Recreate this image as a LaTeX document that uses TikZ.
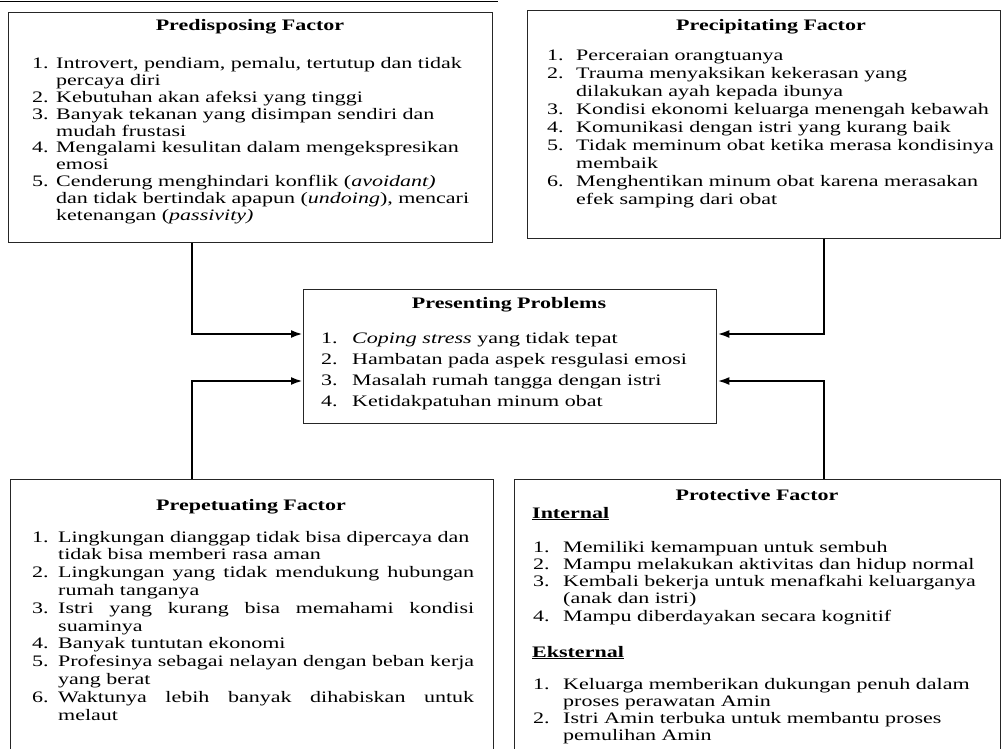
\documentclass[tikz,border=0pt]{standalone}
\usepackage{fontspec}
\setmainfont{Liberation Serif}[FakeStretch=1.375]
\usetikzlibrary{arrows.meta}

\tikzset{
  factor/.style={draw=black!85, line width=1.3pt, minimum width=#1, anchor=north west, inner sep=0pt},
  head/.style={font=\fontsize{16}{17.5}\selectfont\bfseries, inner sep=0pt, anchor=base},
  items/.style={font=\fontsize{16}{#1}\selectfont, inner sep=0pt, anchor=base west},
  conn/.style={line width=2.6pt, -{Latex[length=12pt, width=8pt]}}
}

\begin{document}
\begin{tikzpicture}[x=1pt, y=-1pt]
\useasboundingbox (0,0) rectangle (1001,749);
\draw[line width=1.5pt] (0,1.5) -- (498,1.5);

\node[factor=484pt, minimum height=230pt] (pred) at (8,12) {};
\node[factor=473pt, minimum height=228pt] (prec) at (527,10) {};
\node[factor=413pt, minimum height=134pt] (pres) at (303,289) {};
\node[factor=483pt, minimum height=290pt] (prep) at (10,479) {};
\node[factor=486pt, minimum height=290pt] (prot) at (514,479) {};

\node[head] (predT) at (250,31) {Predisposing Factor};
\node[items=16.8pt] (predL) at (32,69) {\begin{tabular}[t]{@{}p{24pt}@{}l@{}}
1. & Introvert, pendiam, pemalu, tertutup dan tidak\\
   & percaya diri\\
2. & Kebutuhan akan afeksi yang tinggi\\
3. & Banyak tekanan yang disimpan sendiri dan\\
   & mudah frustasi\\
4. & Mengalami kesulitan dalam mengekspresikan\\
   & emosi\\
5. & Cenderung menghindari konflik (\textit{avoidant)}\\
   & dan tidak bertindak apapun (\textit{undoing}), mencari\\
   & ketenangan (\textit{passivity)}
\end{tabular}};

\node[head] (precT) at (771,31) {Precipitating Factor};
\node[items=17.9pt] (precL) at (547,61) {\begin{tabular}[t]{@{}p{29pt}@{}l@{}}
1. & Perceraian orangtuanya\\
2. & Trauma menyaksikan kekerasan yang\\
   & dilakukan ayah kepada ibunya\\
3. & Kondisi ekonomi keluarga menengah kebawah\\
4. & Komunikasi dengan istri yang kurang baik\\
5. & Tidak meminum obat ketika merasa kondisinya\\
   & membaik\\
6. & Menghentikan minum obat karena merasakan\\
   & efek samping dari obat
\end{tabular}};

\node[head] (presT) at (509,308) {Presenting Problems};
\node[items=21pt] (presL) at (321,343) {\begin{tabular}[t]{@{}p{31pt}@{}l@{}}
1. & \textit{Coping stress} yang tidak tepat\\
2. & Hambatan pada aspek resgulasi emosi\\
3. & Masalah rumah tangga dengan istri\\
4. & Ketidakpatuhan minum obat
\end{tabular}};

\node[head] (prepT) at (251,510) {Prepetuating Factor};
\node[items=17.8pt] (prepL) at (32,542) {\begin{tabular}[t]{@{}p{26pt}@{}l@{}}
1. & Lingkungan dianggap tidak bisa dipercaya dan\\
   & tidak bisa memberi rasa aman\\
2. & \makebox[416pt][s]{Lingkungan yang tidak mendukung hubungan}\\
   & rumah tanganya\\
3. & \makebox[416pt][s]{Istri yang kurang bisa memahami kondisi}\\
   & suaminya\\
4. & Banyak tuntutan ekonomi\\
5. & Profesinya sebagai nelayan dengan beban kerja\\
   & yang berat\\
6. & \makebox[416pt][s]{Waktunya lebih banyak dihabiskan untuk}\\
   & melaut
\end{tabular}};

\node[head] (protT) at (757,500) {Protective Factor};
\node[head, anchor=base west] (protI) at (532,518) {\underline{Internal}};
\node[items=17.25pt] (protL) at (533,552) {\begin{tabular}[t]{@{}p{30pt}@{}l@{}}
1. & Memiliki kemampuan untuk sembuh\\
2. & Mampu melakukan aktivitas dan hidup normal\\
3. & Kembali bekerja untuk menafkahi keluarganya\\
   & (anak dan istri)\\
4. & Mampu diberdayakan secara kognitif
\end{tabular}};
\node[head, anchor=base west] (protE) at (532,657) {\underline{Eksternal}};
\node[items=17.3pt] (protM) at (533,689) {\begin{tabular}[t]{@{}p{30pt}@{}l@{}}
1. & Keluarga memberikan dukungan penuh dalam\\
   & proses perawatan Amin\\
2. & Istri Amin terbuka untuk membantu proses\\
   & pemulihan Amin
\end{tabular}};

\coordinate (lx) at (192,0);
\coordinate (rx) at (824,0);
\coordinate (ya) at (0,334);
\coordinate (yb) at (0,381);
\draw[conn] (pred.south -| lx) |- (pres.west |- ya);
\draw[conn] (prep.north -| lx) |- (pres.west |- yb);
\draw[conn] (prec.south -| rx) |- (pres.east |- ya);
\draw[conn] (prot.north -| rx) |- (pres.east |- yb);
\end{tikzpicture}
\end{document}
